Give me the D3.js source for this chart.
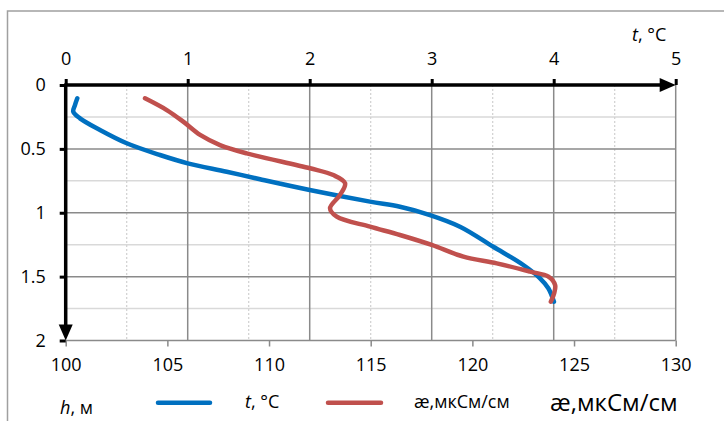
<!DOCTYPE html>
<html><head><meta charset="utf-8">
<script src="https://cdn.jsdelivr.net/npm/d3@7"></script>
<style>body{margin:0;background:#fff}svg{display:block;font-family:"Open Sans",sans-serif}</style>
</head><body><svg id="c" width="724" height="421"></svg>
<script>
// ---- data ----
const tTicks = [0,1,2,3,4,5];
const aTicks = [100,105,110,115,120,125,130];
const hTicks = [0,0.5,1,1.5,2];
// temperature profile (t, °C vs h, m)
const tempT = [0.095,0.076,0.062,0.117,0.281,0.5,0.773,1.0,1.32,1.593,2.0,2.494,2.74,2.986,3.232,3.505,3.751,3.888,3.956,4.002];
const tempH = [0.104,0.157,0.209,0.261,0.352,0.456,0.548,0.613,0.679,0.738,0.822,0.913,0.953,1.018,1.109,1.266,1.409,1.513,1.591,1.696];
// conductivity profile (æ, мкСм/см vs h, m)
const condA = [103.9,104.97,105.78,106.61,107.59,108.9,112.02,113.16,113.74,113.49,113.0,113.33,114.97,116.44,118.0,119.56,121.2,122.84,123.74,124.07,124.02,123.86];
const condH = [0.104,0.196,0.287,0.391,0.47,0.535,0.652,0.705,0.769,0.861,0.965,1.031,1.109,1.174,1.252,1.344,1.396,1.461,1.5,1.566,1.631,1.696];

const svg = d3.select("#c");
const L = 65.7, R = 675.7, T = 85, B = 340.5;
const xT = d3.scaleLinear().domain([0,5]).range([L,R]);
const xA = d3.scaleLinear().domain([100,130]).range([L,R]);
const y = d3.scaleLinear().domain([0,2]).range([T,B]);
const FS = 18;

// outer chart border
svg.append("rect").attr("x",7.5).attr("y",11).attr("width",740).attr("height",430)
  .attr("fill","none").attr("stroke","#a0a0a0").attr("stroke-width",1.5);

// grid
const g = svg.append("g");
g.selectAll(".hm").data([0.25,0.75,1.25,1.75]).join("line")
  .attr("x1",L).attr("x2",R).attr("y1",d=>y(d)).attr("y2",d=>y(d))
  .attr("stroke","#d9d9d9").attr("stroke-width",1.5);
g.selectAll(".vm").data([0.5,1.5,2.5,3.5,4.5]).join("line")
  .attr("x1",d=>xT(d)).attr("x2",d=>xT(d)).attr("y1",T).attr("y2",B)
  .attr("stroke","#d0d0d0").attr("stroke-width",1.2).attr("stroke-dasharray","2,2");
g.selectAll(".hM").data([0.5,1,1.5,2]).join("line")
  .attr("x1",L).attr("x2",R).attr("y1",d=>y(d)).attr("y2",d=>y(d))
  .attr("stroke","#8a8a8a").attr("stroke-width",1.5);
g.selectAll(".vM").data([1,2,3,4,5]).join("line")
  .attr("x1",d=>xT(d)).attr("x2",d=>xT(d)).attr("y1",T).attr("y2",B)
  .attr("stroke","#8a8a8a").attr("stroke-width",1.5);

// bottom axis (æ)
const bAx = d3.axisBottom(xA).tickValues(aTicks).tickSize(6).tickPadding(12).tickFormat(d3.format("d"));
const bg = svg.append("g").attr("transform",`translate(0,${B})`).call(bAx);
bg.select(".domain").remove();
bg.selectAll("line").attr("stroke","#8a8a8a").attr("stroke-width",1.5);
bg.selectAll("text").attr("font-size",FS).attr("fill","#000").attr("font-family","Open Sans");

// top axis (t)
const tAx = d3.axisTop(xT).tickValues(tTicks).tickSize(6).tickPadding(14).tickFormat(d3.format("d"));
const tg = svg.append("g").attr("transform",`translate(0,${T})`).call(tAx);
tg.select(".domain").remove();
tg.selectAll("line").attr("stroke","#000").attr("stroke-width",3);
tg.selectAll("text").attr("font-size",FS).attr("fill","#000").attr("font-family","Open Sans");

// left axis (h)
const lAx = d3.axisLeft(y).tickValues(hTicks).tickSize(6).tickPadding(14).tickFormat(d=>String(d));
const lg = svg.append("g").attr("transform",`translate(${L},0)`).call(lAx);
lg.select(".domain").remove();
lg.selectAll("line").attr("stroke","#000").attr("stroke-width",3);
lg.selectAll("text").attr("font-size",FS).attr("fill","#000").attr("font-family","Open Sans");

// thick axis lines with arrows
svg.append("line").attr("x1",L-1.5).attr("x2",R-12).attr("y1",T).attr("y2",T).attr("stroke","#000").attr("stroke-width",3.5);
svg.append("path").attr("d",`M${R-16},${T-7}L${R},${T}L${R-16},${T+7}Z`).attr("fill","#000");
svg.append("line").attr("x1",L).attr("x2",L).attr("y1",T).attr("y2",B-12).attr("stroke","#000").attr("stroke-width",3.5);
svg.append("path").attr("d",`M${L-7},${B-16}L${L},${B}L${L+7},${B-16}Z`).attr("fill","#000");

// curves
const lineT = d3.line().x(d=>xT(d[0])).y(d=>y(d[1])).curve(d3.curveCatmullRom.alpha(0.5));
const lineA = d3.line().x(d=>xA(d[0])).y(d=>y(d[1])).curve(d3.curveCatmullRom.alpha(0.5));
svg.append("path").datum(tempT.map((v,i)=>[v,tempH[i]])).attr("d",lineT)
  .attr("fill","none").attr("stroke","#0070C0").attr("stroke-width",4.5).attr("stroke-linecap","round").attr("stroke-linejoin","round");
svg.append("path").datum(condA.map((v,i)=>[v,condH[i]])).attr("d",lineA)
  .attr("fill","none").attr("stroke","#C0504D").attr("stroke-width",4.5).attr("stroke-linecap","round").attr("stroke-linejoin","round");

// axis title t, °C
const tt = svg.append("text").attr("x",632).attr("y",41).attr("font-size",FS);
tt.append("tspan").attr("font-style","italic").text("t");
tt.append("tspan").text(", °C");

// legend
svg.append("line").attr("x1",158).attr("x2",210).attr("y1",402.7).attr("y2",402.7)
  .attr("stroke","#0070C0").attr("stroke-width",4.5).attr("stroke-linecap","round");
const l1 = svg.append("text").attr("x",245).attr("y",407.5).attr("font-size",FS);
l1.append("tspan").attr("font-style","italic").text("t");
l1.append("tspan").text(", °C");
svg.append("line").attr("x1",328).attr("x2",381).attr("y1",402.7).attr("y2",402.7)
  .attr("stroke","#C0504D").attr("stroke-width",4.5).attr("stroke-linecap","round");
svg.append("text").attr("x",414).attr("y",408).attr("font-size",FS).text("æ,мкСм/см");
svg.append("text").attr("x",550).attr("y",411).attr("font-size",24).text("æ,мкСм/см");
const hl = svg.append("text").attr("x",60).attr("y",414).attr("font-size",FS);
hl.append("tspan").attr("font-style","italic").text("h");
hl.append("tspan").text(", м");
</script></body></html>
